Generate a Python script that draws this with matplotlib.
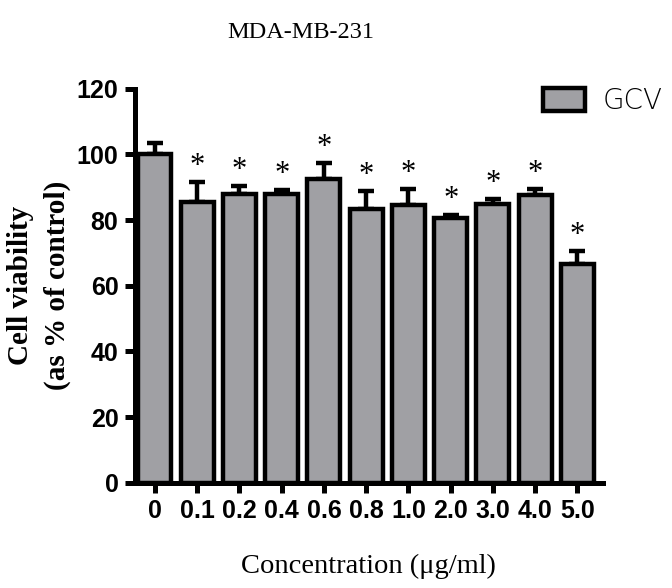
import numpy as np
import matplotlib
matplotlib.use("Agg")
import matplotlib.pyplot as plt
from matplotlib import font_manager

# values
concentrations = ["0", "0.1", "0.2", "0.4", "0.6", "0.8", "1.0", "2.0", "3.0", "4.0", "5.0"]
viability = [100, 85.5, 88, 88, 92.5, 83.5, 84.5, 80.5, 85, 87.5, 66.5]
sem = [3.5, 6, 2.5, 1.2, 5, 5.5, 5, 1, 1.3, 2, 4]
significant = [False] + [True] * 10

names = {f.name for f in font_manager.fontManager.ttflist}
tick_font = "Liberation Sans Narrow" if "Liberation Sans Narrow" in names else "Liberation Sans"

fig = plt.figure(figsize=(6.72, 5.88), dpi=100)
ax = fig.add_axes([0.201, 0.179, 0.696, 0.670])

x = np.arange(len(concentrations))
ax.bar(x, viability, width=0.78, color="#a0a0a4", edgecolor="black",
       linewidth=3.2, label="GCV", zorder=2)
ax.errorbar(x, viability, yerr=[np.zeros(len(sem)), sem], fmt="none",
            ecolor="black", elinewidth=3.2, capsize=6, capthick=3.2, zorder=1)

for xi, v, e, s in zip(x, viability, sem, significant):
    if s:
        ax.text(xi, v + e + 0.3, "*", ha="center", va="bottom",
                fontsize=22, family="Liberation Serif")

ax.set_xlim(-0.47, 10.6)
ax.set_ylim(0, 120)
ax.set_yticks(range(0, 121, 20))
ax.set_xticks(x)
ax.set_xticklabels(concentrations)

for side in ["top", "right"]:
    ax.spines[side].set_visible(False)
for side in ["left", "bottom"]:
    ax.spines[side].set_linewidth(3.6)

ax.tick_params(width=3.6, length=7, labelsize=18, pad=5)
for lab in ax.get_xticklabels() + ax.get_yticklabels():
    lab.set_family(tick_font)
    lab.set_weight("bold")

ax.set_ylabel("Cell viability\n(as % of control)", family="Liberation Serif",
              fontsize=21, fontweight="bold", labelpad=4, linespacing=1.45)
ax.set_xlabel("Concentration (\u03bcg/ml)", family="Liberation Serif",
              fontsize=20.5, labelpad=22)
fig.text(0.448, 0.944, "MDA-MB-231", ha="center", va="center",
         family="Liberation Serif", fontsize=17.5)

ax.legend(loc="upper left", bbox_to_anchor=(0.808, 0.852),
          bbox_transform=fig.transFigure, frameon=False, borderpad=0,
          borderaxespad=0,
          prop={"family": "DejaVu Sans", "weight": "light", "size": 20},
          handlelength=1.5, handleheight=0.9, handletextpad=0.65)

fig.savefig("out.png", dpi=100)
